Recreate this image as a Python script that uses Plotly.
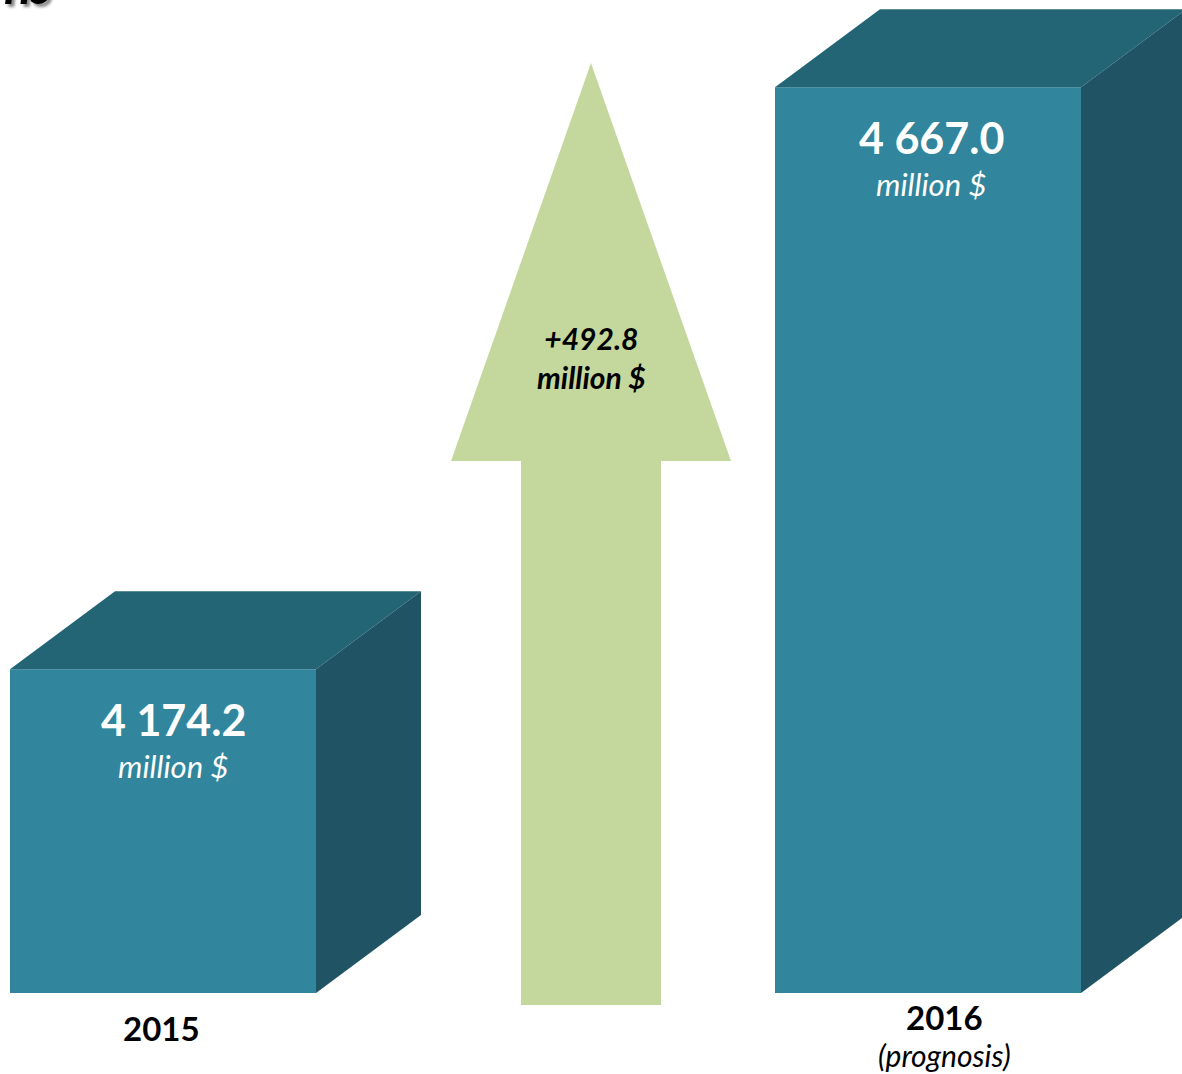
import plotly.graph_objects as go

# ---- data -------------------------------------------------------------
years = ["2015", "2016"]
year_notes = ["", "(prognosis)"]
values = [4174.2, 4667.0]          # million $
value_labels = ["4 174.2", "4 667.0"]
unit_label = "million $"
growth_label = "+492.8<br>million $"

# ---- geometry / style -------------------------------------------------
W, H = 1182, 1074
BASE = 3900.0            # value at the floor of the bars
FLOOR_PX = 993           # pixel row of the floor
PX_PER_UNIT = 1.181      # vertical pixels per million $
Y_MAX = BASE + FLOOR_PX / PX_PER_UNIT
Y_MIN = Y_MAX - H / PX_PER_UNIT

BAR_LEFT = [10, 775]
BAR_W = 306
LABEL_SHIFT = [10, 3]    # horizontal nudge of the in-box labels
DEPTH_X = 105
DEPTH_Y = 78 / PX_PER_UNIT

FRONT = "#31859c"
TOP = "#236574"
SIDE = "#205465"
ARROW = "#c4d89d"
FONT = "Lato, 'Open Sans', sans-serif"


def row(px):
    """Convert a pixel row (from the top) into axis units."""
    return BASE + (FLOOR_PX - px) / PX_PER_UNIT


fig = go.Figure()

# growth arrow
shaft_l, shaft_r, head_l, head_r, tip_x = 521, 661, 451, 731, 591
shaft_bottom, head_base, tip = row(1005), row(461), row(63)
fig.add_trace(go.Scatter(
    x=[shaft_l, shaft_l, head_l, tip_x, head_r, shaft_r, shaft_r, shaft_l],
    y=[shaft_bottom, head_base, head_base, tip, head_base, head_base, shaft_bottom, shaft_bottom],
    fill="toself", fillcolor=ARROW, mode="lines", line=dict(width=0),
    hoverinfo="skip", showlegend=False,
))

# 3D boxes: front face as bars, top and side faces as filled polygons
fig.add_trace(go.Bar(
    x=[l + BAR_W / 2 for l in BAR_LEFT],
    y=[v - BASE for v in values],
    base=BASE, width=BAR_W, marker=dict(color=FRONT, line=dict(width=0)),
    hoverinfo="skip", showlegend=False,
))
for left, v in zip(BAR_LEFT, values):
    right = left + BAR_W
    fig.add_trace(go.Scatter(
        x=[left, left + DEPTH_X, right + DEPTH_X, right, left],
        y=[v, v + DEPTH_Y, v + DEPTH_Y, v, v],
        fill="toself", fillcolor=TOP, mode="lines", line=dict(width=0),
        hoverinfo="skip", showlegend=False,
    ))
    fig.add_trace(go.Scatter(
        x=[right, right + DEPTH_X, right + DEPTH_X, right, right],
        y=[v, v + DEPTH_Y, BASE + DEPTH_Y, BASE, v],
        fill="toself", fillcolor=SIDE, mode="lines", line=dict(width=0),
        hoverinfo="skip", showlegend=False,
    ))

annotations = []
for left, shift, v, lab in zip(BAR_LEFT, LABEL_SHIFT, values, value_labels):
    cx = left + BAR_W / 2 + shift
    annotations.append(dict(x=cx, y=v, yshift=-50, text=f"<b>{lab}</b>",
                            font=dict(size=43, color="white", family=FONT)))
    annotations.append(dict(x=cx, y=v, yshift=-97, text=f"<i>{unit_label}</i>",
                            font=dict(size=31, color="white", family=FONT)))

# year labels under the boxes
annotations.append(dict(x=161, y=BASE, yshift=-35, text=f"<b>{years[0]}</b>",
                        font=dict(size=33, color="black", family=FONT)))
annotations.append(dict(x=944, y=BASE, yshift=-24, text=f"<b>{years[1]}</b>",
                        font=dict(size=33, color="black", family=FONT)))
annotations.append(dict(x=944, y=BASE, yshift=-62, text=f"<i>{year_notes[1]}</i>",
                        font=dict(size=30, color="black", family=FONT)))

# growth label on the arrow
annotations.append(dict(x=tip_x, y=row(357), text=f"<b><i>{growth_label}</i></b>",
                        font=dict(size=30, color="black", family=FONT)))

# clipped tail of the heading above the chart
annotations.append(dict(x=0, y=1, xref="paper", yref="paper", xanchor="left",
                        yanchor="bottom", yshift=-17, xshift=2,
                        text="<b><i>ns</i></b>",
                        font=dict(size=50, color="black", family=FONT,
                                  shadow="3px 3px 3px #888")))

for a in annotations:
    a.setdefault("xref", "x")
    a.setdefault("yref", "y")
    a["showarrow"] = False

fig.update_layout(
    width=W, height=H,
    margin=dict(l=0, r=0, t=0, b=0),
    paper_bgcolor="white", plot_bgcolor="white",
    xaxis=dict(range=[0, W], visible=False, fixedrange=True),
    yaxis=dict(range=[Y_MIN, Y_MAX], visible=False, fixedrange=True),
    annotations=annotations,
    barmode="overlay",
)

fig.write_html("out.html")
